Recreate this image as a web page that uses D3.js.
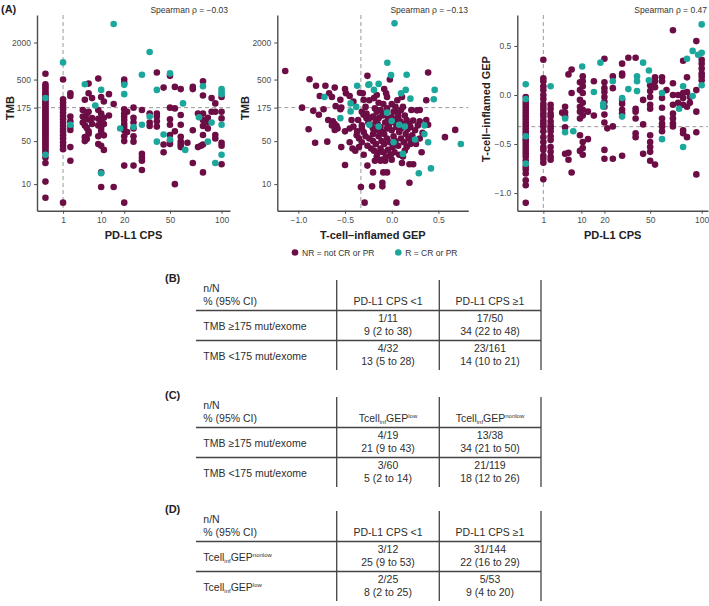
<!DOCTYPE html>
<html><head><meta charset="utf-8">
<script src="https://cdn.jsdelivr.net/npm/d3@7"></script>
<style>body{margin:0;background:#fff;} svg{display:block;font-family:"Liberation Sans",Arial,sans-serif;}</style>
</head><body><svg id="c" width="709" height="606"></svg>
<script>
// ---------------- DATA ----------------
const cpsTicks=[1,10,20,50,100];
const tmbTicks=[10,50,175,500,2000];
const gepTicks=[-1,-0.5,0,0.5];
const spearman=["Spearman \u03c1 = \u22120.03","Spearman \u03c1 = \u22120.13","Spearman \u03c1 = 0.47"];
const legendLabels=["NR = not CR or PR","R = CR or PR"];
const tmbCut=175, cpsCut=1, gepCutX=-0.33, gepCutY=-0.323;

// Panel 1: [PD-L1 CPS, list of TMB values]
const a1NR=[
 [0,[620,420,390,360,330,305,285,265,245,228,212,198,185,172,161,151,142,133,125,117,110,103,97,91,85,80,75,70,66,62,58,54,50,47,44,41,38,35,32,27,22,11,6]],
 [1,[500,240,212,188,165,145,128,113,100,89,79,70,62,55,48,42,37,5]],
 [2,[300,270,125,105,88,76,40,24]],
 [4.5,[160,125,100]],[5,[235,118,90,58,50]],[5.5,[140,82,54]],
 [6,[430,300,150,112,72,66]],[7,[250,118,95]],
 [9,[520,160,115,90,60,45]],[10,[260,140,105,82,72,42,15.5,9]],[11,[220,120,95,62,36]],
 [13,[290,130]],[15,[200,9]],
 [20,[500,440,165,140,125,110,95,85,75,60,50,20,5]],[21.5,[150,70]],
 [25,[175,120,100,80,60,49,20]],[30,[160,31,27,24,17]],[35,[140,100,88]],
 [40,[650,140,125,105,86]],[45,[370,44,33]],[50,[575,175,113,92,63,50,45]],
 [54,[380,170,72,10]],[59,[350,133,92,59,49,44,40]],[65,[47]],[70,[380,350,75,22]],
 [75,[40,140]],[78,[42]],[80,[470,275,140,110,88,63,44,15.5]],[85,[100,80,120]],
 [89,[250,150]],[93,[205,150,63,55]],[100,[260,150,117,47,42,21]]
];
const a1R=[
 [0,[250,30]],[1,[950]],[2,[92]],[5,[420]],[8,[190]],[10,[340,15]],[15,[4000]],[18,[80]],
 [20,[410,290]],[25,[85]],[30,[600,92]],[35,[1400,125]],[40,[340,49]],[45,[64]],[50,[630,53]],
 [61,[205]],[63,[36]],[76,[122]],[80,[390]],[85,[49]],[89,[100]],[93,[22]],[100,[350,315,290,92,30]]
];

// Panel 2: [T-cell-inflamed GEP, TMB]
const a2NR=[[-1.14,690],[-0.88,507],[-0.81,396],[-0.71,396],[-0.61,370],[-0.50,350],[-0.67,300],[-0.77,270],[-0.64,260],[-0.55,234],[-0.49,300],[-0.45,270],[-0.41,220],[-0.34,305],[-0.96,175],[-0.84,155],[-0.78,134],[-0.73,165],[-0.60,185],[-0.55,165],[-0.54,176],[-0.68,110],[-0.63,105],[-0.61,95],[-0.59,88],[-0.58,80],[-0.61,76],[-0.64,90],[-0.89,78],[-0.82,47],[-0.69,49],[-0.50,72],[-0.45,80],[-0.41,86],[-0.37,72],[-0.43,110],[-0.36,110],[-0.32,90],[-0.30,134],[-0.27,118],[-0.54,40],[-0.45,48],[-0.42,38],[-0.39,35],[-0.32,48],[-0.375,62],[-0.35,55],[-0.50,20.5],[-0.33,9],[-0.29,5],[-0.26,575],[-0.30,234],[-0.28,180],
[0.39,650],[-0.02,500],[-0.08,350],[-0.06,300],[-0.05,260],[-0.16,280],[-0.19,250],[-0.24,230],[-0.31,300],[0.11,260],[0.37,230],[0.06,230],[0.0,200],[-0.05,170],[0.04,180],[0.12,180],[0.21,160],[0.27,158],[0.30,160],[-0.16,150],[-0.07,140],[-0.27,140],[-0.32,150],[-0.20,125],[-0.14,118],[0.0,122],[0.07,125],[0.16,110],[0.23,108],[0.30,105],[0.37,110],[0.39,92],[0.68,76],[0.57,58],[0.19,10.5],[0.05,5],[-0.10,10.5],[-0.10,9.2],[-0.21,9.2],[-0.20,15.5],[-0.09,15.5],[-0.05,15.5],[-0.26,20],[-0.18,24],[-0.12,24],[-0.07,24],[-0.10,25],[0.11,22],[0.19,21],[0.23,21],[0.32,33],
[-0.25,100],[-0.22,90],[-0.2,80],[-0.18,75],[-0.15,95],[-0.12,85],[-0.1,70],[-0.08,65],[-0.05,80],[-0.03,90],[0.0,75],[0.02,60],[0.05,85],[0.08,70],[0.1,80],[0.12,95],[0.15,65],[0.18,55],[0.2,85],[0.25,75],[0.28,90],[-0.28,60],[-0.24,55],[-0.2,50],[-0.17,45],[-0.14,60],[-0.11,50],[-0.08,45],[-0.05,55],[-0.02,48],[0.01,40],[0.04,50],[0.07,42],[0.1,55],[0.13,48],[0.16,40],[0.2,45],[0.24,52],[-0.26,42],[-0.22,38],[-0.19,35],[-0.15,32],[-0.12,38],[-0.09,33],[-0.04,36],[-0.01,30],[0.03,33],[0.08,30],[0.14,35],[-0.3,70],[-0.32,80],[-0.23,120],[-0.17,105],[-0.1,130],[-0.04,115],[0.03,100],[0.09,105],[0.14,130],[0.19,95],[-0.18,170],[-0.12,160],[-0.09,200],[-0.14,210],[0.02,150],[0.07,145],[0.1,160],[-0.2,65],[-0.13,72],[-0.07,100],[0.06,115],[0.17,78],[0.22,62],[0.3,55],[0.33,68],[0.26,45],[-0.35,40],[-0.3,30],[-0.16,28],[-0.06,28],[0.0,25],[0.12,28]];
const a2R=[[0.03,4100],[-0.047,940],[-0.007,590],[0.16,600],[-0.24,420],[-0.14,425],[-0.37,396],[-0.25,410],[-0.19,340],[-0.72,260],[-0.44,205],[-0.38,180],[-0.44,152],[-0.55,118],[0.10,300],[0.15,340],[0.20,245],[0.46,340],[0.45,240],[-0.05,145],[-0.24,92],[-0.14,86],[0.0,106],[0.08,92],[0.14,86],[0.35,65],[0.35,90],[0.39,48],[0.25,53],[0.74,45],[0.02,48],[0.12,31],[0.29,15],[0.42,18]];

// Panel 3: [PD-L1 CPS, list of GEP values]
const a3NR=[
 [0,[-0.02,-0.07,-0.10,-0.13,-0.16,-0.19,-0.22,-0.25,-0.28,-0.31,-0.34,-0.37,-0.40,-0.45,-0.48,-0.51,-0.54,-0.57,-0.60,-0.63,-0.67,-0.73,-0.76,-0.80,-0.87,-0.92,-1.10]],
 [1,[0.36,0.17,0.14,0.09,0.05,0.0,-0.04,-0.09,-0.12,-0.15,-0.19,-0.22,-0.26,-0.29,-0.32,-0.37,-0.43,-0.48,-0.53,-0.56,-0.62,-0.65,-0.69,-0.86]],
 [2,[-0.10,-0.14,-0.19,-0.22,-0.27,-0.31,-0.34,-0.37,-0.42,-0.46,-0.53,-0.58,-0.63,-0.66]],
 [4.3,[-0.18]],[5,[-0.12,-0.18,-0.22,-0.33,-0.60]],[5.9,[0.21,-0.59,-0.66]],[6.8,[0.26,0.02,-0.79]],
 [9.5,[0.13,0.05,-0.05,-0.12,-0.17,-0.24,-0.41,-0.57]],[10.5,[0.19,0.14,0.09,0.02,-0.08,-0.15,-0.21,-0.48,-0.54,-0.61]],
 [12.5,[-0.17,-0.45]],[15,[0.14,-0.21]],[20,[0.37,0.13,0.07,0.03,-0.02,-0.07,-0.12,-0.20,-0.28,-0.56,-0.65]],
 [21.5,[-0.34]],[24.5,[0.19,0.07,-0.32,-0.65]],[30,[0.32,0.22,0.20,-0.05,-0.09,-0.15,-0.19,-0.62]],[34,[0.38]],
 [39,[0.38,-0.14,-0.17,-0.24,-0.39,-0.43]],[44.5,[-0.05,-0.30,-0.60]],[50,[0.10,0.04,-0.02,-0.10,-0.14,-0.41,-0.48,-0.53,-0.58,-0.67]],
 [54,[0.18,0.14,0.08,-0.71]],[60,[0.18,0.14,-0.03,-0.13,-0.24,-0.29,-0.32,-0.37]],[64,[0.05]],
 [70,[0.66,0.12,0.0,-0.10,-0.19,-0.24,-0.29,-0.32]],[75,[0.0,-0.08]],[80,[0.35,0.02,-0.03,-0.10,-0.36,-0.39]],
 [84,[0.18,0.03,-0.12,-0.43]],[87,[-0.08,-0.02]],[94,[0.55,0.05,-0.17,-0.38,-0.81]],[100,[0.36,0.32,0.27,0.22,0.19,0.15]]
];
const a3R=[
 [0,[0.11,-0.04,-0.42,-0.70]],[2,[0.09]],[5,[-0.24,-0.38]],[7.3,[-0.37]],[10.3,[0.29]],[15,[0.03]],[18,[0.33]],
 [19.4,[-0.09,-0.12]],[24.5,[0.14]],[30,[-0.03,-0.22]],[34,[0.06]],[40,[0.19,0.14,0.04]],[44.5,[0.33]],
 [49,[0.25,0.15]],[60,[0.02,-0.45]],[76,[-0.14]],[80,[0.09,-0.53]],[84,[0.37]],[90,[0.45,-0.01]],[96,[0.41]],
 [100,[0.72,0.43,0.10]]
];

// Tables
const tblLabels=["(B)","(C)","(D)"];
const tblHeadLeft=["n/N","% (95% CI)"];
const tblBCols=["PD-L1 CPS <1","PD-L1 CPS \u22651"];
const tblBRows=[["TMB \u2265175 mut/exome","1/11","9 (2 to 38)","17/50","34 (22 to 48)"],
                ["TMB <175 mut/exome","4/32","13 (5 to 28)","23/161","14 (10 to 21)"]];
const tblCCols=[["Tcell","inf","GEP","low"],["Tcell","inf","GEP","nonlow"]];
const tblCRows=[["TMB \u2265175 mut/exome","4/19","21 (9 to 43)","13/38","34 (21 to 50)"],
                ["TMB <175 mut/exome","3/60","5 (2 to 14)","21/119","18 (12 to 26)"]];
const tblDCols=["PD-L1 CPS <1","PD-L1 CPS \u22651"];
const tblDRows=[[["Tcell","inf","GEP","nonlow"],"3/12","25 (9 to 53)","31/144","22 (16 to 29)"],
                [["Tcell","inf","GEP","low"],"2/25","8 (2 to 25)","5/53","9 (4 to 20)"]];

// ---------------- DRAW ----------------
const svg=d3.select("#c");
const NRc="#6c0d45", Rc="#1ca79c", AX="#4d4d4d", R=3.3;
const expand=g=>g.flatMap(([x,ys])=>ys.map(y=>[x,y]));
const plotTop=15, plotBot=210.7;

function panel(o){
  const g=svg.append("g");
  const [x0,x1]=o.x.range();
  g.append("line").attr("x1",o.x(o.vx)).attr("x2",o.x(o.vx)).attr("y1",plotTop).attr("y2",plotBot)
    .attr("stroke","#9a9a9a").attr("stroke-width",1).attr("stroke-dasharray","4,3");
  g.append("line").attr("x1",x0).attr("x2",x1).attr("y1",o.y(o.hy)).attr("y2",o.y(o.hy))
    .attr("stroke","#9a9a9a").attr("stroke-width",1).attr("stroke-dasharray","4,3");
  g.selectAll(".nr").data(o.nr).join("circle").attr("cx",d=>o.x(d[0])).attr("cy",d=>o.y(d[1])).attr("r",R).attr("fill",NRc);
  g.selectAll(".rr").data(o.r).join("circle").attr("cx",d=>o.x(d[0])).attr("cy",d=>o.y(d[1])).attr("r",R).attr("fill",Rc);
  const ax=g.append("g").attr("transform",`translate(0,${plotBot})`)
    .call(d3.axisBottom(o.x).tickValues(o.xt).tickFormat(o.xf).tickSize(3).tickSizeOuter(0).tickPadding(3));
  const ay=g.append("g").attr("transform",`translate(${x0},0)`)
    .call(d3.axisLeft(o.y).tickValues(o.yt).tickFormat(o.yf).tickSize(3).tickSizeOuter(0).tickPadding(3));
  [ax,ay].forEach(a=>{
    a.select(".domain").attr("stroke",AX).attr("stroke-width",1.4);
    a.selectAll(".tick line").attr("stroke",AX).attr("stroke-width",1);
    a.selectAll(".tick text").attr("fill","#4d4d4d").style("font-size","8.5px").style("font-family","Liberation Sans, Arial, sans-serif");
  });
  g.append("text").attr("x",(x0+x1)/2).attr("y",239).attr("text-anchor","middle")
    .style("font-weight","bold").style("font-size","11px").attr("fill","#222").text(o.xt_title);
  g.append("text").attr("transform",`translate(${o.ylx},${o.yly}) rotate(-90)`).attr("text-anchor","middle")
    .style("font-weight","bold").style("font-size","11px").attr("fill","#222").text(o.yt_title);
  g.append("text").attr("x",o.sx).attr("y",13).attr("text-anchor","end").style("font-size","8.5px").attr("fill","#333").text(o.sp);
}

const yTMB=d3.scaleLog().domain([3.7,5600]).range([plotBot,plotTop]);
const fmtGEP=d3.format(".1f");

panel({x:d3.scaleSqrt().domain([-0.23,109.8]).range([37,230]), y:yTMB,
  nr:expand(a1NR), r:expand(a1R), vx:cpsCut, hy:tmbCut,
  xt:cpsTicks, xf:d=>d, yt:tmbTicks, yf:d=>d,
  xt_title:"PD-L1 CPS", yt_title:"TMB", ylx:14, yly:108, sx:228, sp:spearman[0]});

panel({x:d3.scaleLinear().domain([-1.225,0.82]).range([277.3,468.3]), y:yTMB,
  nr:a2NR, r:a2R, vx:gepCutX, hy:tmbCut,
  xt:gepTicks, xf:fmtGEP, yt:tmbTicks, yf:d=>d,
  xt_title:"T-cell\u2013inflamed GEP", yt_title:"TMB", ylx:249, yly:108, sx:468, sp:spearman[1]});

panel({x:d3.scaleSqrt().domain([-0.23,107.3]).range([517.3,708]), y:d3.scaleLinear().domain([-1.18,0.816]).range([plotBot,plotTop]),
  nr:expand(a3NR), r:expand(a3R), vx:cpsCut, hy:gepCutY,
  xt:cpsTicks, xf:d=>d, yt:gepTicks, yf:fmtGEP,
  xt_title:"PD-L1 CPS", yt_title:"T-cell\u2013inflamed GEP", ylx:490, yly:109, sx:707, sp:spearman[2]});

svg.append("text").attr("x",1).attr("y",13).style("font-weight","bold").style("font-size","11px").attr("fill","#222").text("(A)");

// legend
const lg=svg.append("g");
[[295,NRc,legendLabels[0]],[398.3,Rc,legendLabels[1]]].forEach(([x,c,t])=>{
  lg.append("circle").attr("cx",x).attr("cy",252.5).attr("r",R).attr("fill",c);
  lg.append("text").attr("x",x+7).attr("y",255.5).style("font-size","8.5px").attr("fill","#333").text(t);
});

// tables
const xs={left:196,d1:336.7,d2:439.3,right:541,lab:203.3,c1:388,c2:490};
function richText(sel,parts,x,y,anchor){
  const t=sel.append("text").attr("x",x).attr("y",y).attr("text-anchor",anchor).style("font-size","10.5px").attr("fill","#2e2e2e");
  if(typeof parts==="string"){t.text(parts);return;}
  t.append("tspan").text(parts[0]);
  t.append("tspan").attr("dy",2.5).style("font-size","6px").text(parts[1]);
  t.append("tspan").attr("dy",-2.5).text(parts[2]);
  t.append("tspan").attr("dy",-3.8).style("font-size","6px").text(parts[3]);
}
function table(T,label,cols,rows){
  const g=svg.append("g");
  g.append("text").attr("x",165).attr("y",T+4).style("font-weight","bold").style("font-size","11px").attr("fill","#222").text(label);
  const bottom=T+92;
  [xs.d1,xs.d2,xs.right].forEach(x=>g.append("line").attr("x1",x).attr("x2",x).attr("y1",T+2).attr("y2",bottom).attr("stroke","#444").attr("stroke-width",1.3));
  [T+32.5,T+62.5].forEach(y=>g.append("line").attr("x1",xs.left).attr("x2",xs.right).attr("y1",y).attr("y2",y).attr("stroke","#444").attr("stroke-width",1.3));
  richText(g,tblHeadLeft[0],xs.lab,T+13.5,"start");
  richText(g,tblHeadLeft[1],xs.lab,T+26.5,"start");
  richText(g,cols[0],xs.c1,T+26.5,"middle");
  richText(g,cols[1],xs.c2,T+26.5,"middle");
  rows.forEach((r,i)=>{
    const y0=T+32.5+i*30;
    richText(g,r[0],xs.lab,y0+19,"start");
    richText(g,r[1],xs.c1,y0+11.5,"middle");
    richText(g,r[2],xs.c1,y0+24.5,"middle");
    richText(g,r[3],xs.c2,y0+11.5,"middle");
    richText(g,r[4],xs.c2,y0+24.5,"middle");
  });
}
table(278,tblLabels[0],tblBCols,tblBRows);
table(395,tblLabels[1],tblCCols,tblCRows);
table(509,tblLabels[2],tblDCols,tblDRows);
</script></body></html>
